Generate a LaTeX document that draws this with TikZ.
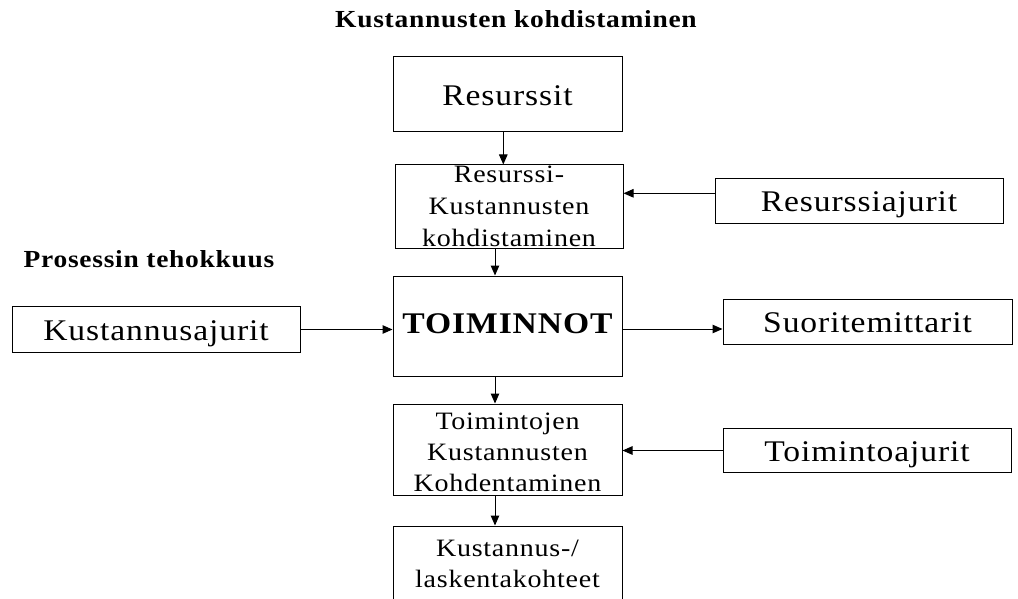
\documentclass[tikz,border=0pt]{standalone}
\usepackage{fontspec}
\setmainfont{Liberation Serif}
\newfontfamily\dfont{Liberation Serif}[FakeStretch=1.12,LetterSpace=3]
\usetikzlibrary{arrows.meta}
\begin{document}
\begin{tikzpicture}[x=1pt,y=-1pt,
  box/.style={draw, line width=1pt, inner sep=0pt, anchor=center},
  big/.style={font=\dfont\fontsize{30}{32}\selectfont, text height=22pt, text depth=0pt},
  small/.style={font=\dfont\fontsize{25}{32}\selectfont, align=center, inner sep=0pt, anchor=center},
  smallb/.style={font=\dfont\fontsize{25}{31}\selectfont, align=center, inner sep=0pt, anchor=center},
  head/.style={font=\dfont\bfseries\fontsize{24.5}{26}\selectfont, inner sep=0pt, anchor=base},
  arr/.style={line width=1pt, -{Triangle[length=10pt,width=8.5pt]}}]

\useasboundingbox (0,0) rectangle (1018,599);
\begin{scope}
\clip (0,0) rectangle (1018,599);

\node[head] (title) at (516,28) {Kustannusten kohdistaminen};
\node[head] (proc) at (149,267) {Prosessin tehokkuus};

\node[box, big, minimum width=229pt, minimum height=75pt] (res) at (507.5,94.5) {Resurssit};

\node[box, minimum width=228pt, minimum height=83pt] (rk) at (509,206.5) {};
\node[small] (rkt) at (509,206.75) {Resurssi-\\Kustannusten\\kohdistaminen};

\node[box, big, minimum width=288pt, minimum height=45pt] (raj) at (859,200.8) {Resurssiajurit};

\node[box, minimum width=229pt, minimum height=100pt,
      font=\dfont\bfseries\fontsize{30}{32}\selectfont, text height=14pt, text depth=0pt] (toim) at (507.5,326) {TOIMINNOT};

\node[box, big, minimum width=288pt, minimum height=45.6pt] (kaj) at (156,329.5) {Kustannusajurit};
\node[box, big, minimum width=289pt, minimum height=45pt] (suo) at (867.5,321.5) {Suoritemittarit};

\node[box, minimum width=229pt, minimum height=91pt] (toj) at (507.5,449.5) {};
\node[smallb] (tojt) at (507.5,452.75) {Toimintojen\\Kustannusten\\Kohdentaminen};

\node[box, big, minimum width=288pt, minimum height=44.4pt] (taj) at (867,450.5) {Toimintoajurit};

\node[box, minimum width=229pt, minimum height=90pt] (kus) at (507.5,571) {};
\node[smallb] (kust) at (507.5,563.8) {Kustannus-/\\laskentakohteet};

\draw[arr] ([xshift=-4.2pt]res.south) -- ([xshift=-4.2pt]res.south |- rk.north);
\draw[arr] ([yshift=7.5pt]raj.west) -- ([yshift=7.5pt]raj.west -| rk.east);
\draw[arr] ([xshift=-14pt]rk.south) -- ([xshift=-14pt]rk.south |- toim.north);
\draw[arr] (kaj.east) -- (kaj.east -| toim.west);
\draw[arr] ([yshift=-3pt]toim.east) -- ([yshift=-3pt]toim.east -| suo.west);
\draw[arr] ([xshift=-12.5pt]toim.south) -- ([xshift=-12.5pt]toim.south |- toj.north);
\draw[arr] (taj.west) -- (taj.west -| toj.east);
\draw[arr] ([xshift=-12.5pt]toj.south) -- ([xshift=-12.5pt]toj.south |- kus.north);
\end{scope}
\end{tikzpicture}
\end{document}
